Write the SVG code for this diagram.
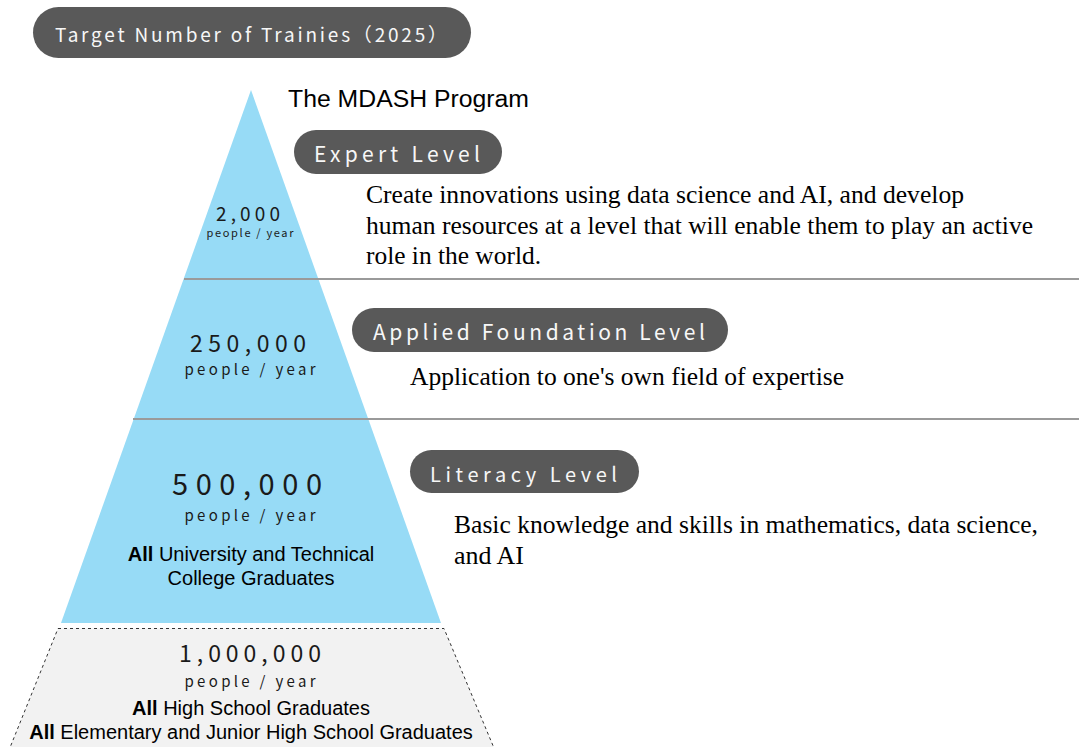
<svg xmlns="http://www.w3.org/2000/svg" width="1079" height="747" viewBox="0 0 1079 747">
  <style>
    .badge { fill: #595959; }
    .badge-text { font-family: "Noto Sans CJK JP", "Noto Sans", sans-serif; fill: #f7f7f7; }
    .num { font-family: "Noto Sans CJK JP", "Noto Sans", sans-serif; fill: #1a1a1a; text-anchor: middle; }
    .sans { font-family: "Liberation Sans", Arial, sans-serif; fill: #000; }
    .serif { font-family: "Liberation Serif", "Times New Roman", serif; fill: #000; font-size: 25px; }
    .sep { stroke: #9a9a9a; stroke-width: 2; fill: none; }
  </style>

  <rect width="1079" height="747" fill="#ffffff"/>

  <!-- title badge -->
  <g id="title">
    <rect class="badge" x="33" y="7" width="438" height="51" rx="25.5"/>
    <text class="badge-text" x="55" y="42" font-size="19" textLength="392" lengthAdjust="spacing">Target Number of Trainies（2025）</text>
  </g>

  <!-- lower tier: all school graduates (dashed outline) -->
  <g id="tier-school">
    <polygon points="58,628.5 444,628.5 499,760 5,760" fill="#f2f2f2" stroke="#333" stroke-width="1" stroke-dasharray="3,3"/>
    <text class="num" x="250" y="662" font-size="23" textLength="142" lengthAdjust="spacing">1,000,000</text>
    <text class="num" x="250" y="687" font-size="15" textLength="131" lengthAdjust="spacing">people / year</text>
    <text class="sans" x="251" y="715" font-size="20" text-anchor="middle"><tspan font-weight="bold">All</tspan> High School Graduates</text>
    <text class="sans" x="251" y="739" font-size="20" text-anchor="middle"><tspan font-weight="bold">All</tspan> Elementary and Junior High School Graduates</text>
  </g>

  <!-- pyramid body -->
  <g id="pyramid">
    <polygon points="251,90 441,623 61,623" fill="#97dbf6"/>
  </g>

  <!-- tier separators -->
  <g id="separators">
    <line class="sep" x1="184" y1="279" x2="1079" y2="279"/>
    <line class="sep" x1="133" y1="419" x2="1079" y2="419"/>
  </g>

  <!-- program heading -->
  <g id="program-title">
    <text class="sans" x="288" y="107" font-size="23" textLength="241" lengthAdjust="spacingAndGlyphs">The MDASH Program</text>
  </g>

  <!-- expert tier -->
  <g id="tier-expert">
    <text class="num" x="248" y="221" font-size="19" textLength="64" lengthAdjust="spacing">2,000</text>
    <text class="num" x="250" y="237" font-size="11" textLength="87" lengthAdjust="spacing">people / year</text>
    <rect class="badge" x="294" y="130" width="208" height="44" rx="22"/>
    <text class="badge-text" x="314" y="162" font-size="21" textLength="166" lengthAdjust="spacing">Expert Level</text>
    <text class="serif" x="366" y="203" textLength="598" lengthAdjust="spacingAndGlyphs">Create innovations using data science and AI, and develop</text>
    <text class="serif" x="366" y="234" textLength="667" lengthAdjust="spacingAndGlyphs">human resources at a level that will enable them to play an active</text>
    <text class="serif" x="366" y="264" textLength="175" lengthAdjust="spacingAndGlyphs">role in the world.</text>
  </g>

  <!-- applied foundation tier -->
  <g id="tier-applied">
    <text class="num" x="248" y="352" font-size="23" textLength="116" lengthAdjust="spacing">250,000</text>
    <text class="num" x="250" y="375" font-size="15" textLength="131" lengthAdjust="spacing">people / year</text>
    <rect class="badge" x="352" y="308" width="376" height="44" rx="22"/>
    <text class="badge-text" x="373" y="340" font-size="21" textLength="332" lengthAdjust="spacing">Applied Foundation Level</text>
    <text class="serif" x="410" y="385" textLength="434" lengthAdjust="spacingAndGlyphs">Application to one's own field of expertise</text>
  </g>

  <!-- literacy tier -->
  <g id="tier-literacy">
    <text class="num" x="247" y="495" font-size="29" textLength="150" lengthAdjust="spacing">500,000</text>
    <text class="num" x="250" y="521" font-size="15" textLength="131" lengthAdjust="spacing">people / year</text>
    <text class="sans" x="251" y="561" font-size="20" text-anchor="middle"><tspan font-weight="bold">All</tspan> University and Technical</text>
    <text class="sans" x="251" y="585" font-size="20" text-anchor="middle">College Graduates</text>
    <rect class="badge" x="410" y="450" width="229" height="43" rx="21.5"/>
    <text class="badge-text" x="430" y="482" font-size="20" textLength="187" lengthAdjust="spacing">Literacy Level</text>
    <text class="serif" x="454" y="533" textLength="584" lengthAdjust="spacingAndGlyphs">Basic knowledge and skills in mathematics, data science,</text>
    <text class="serif" x="454" y="564" textLength="70" lengthAdjust="spacingAndGlyphs">and AI</text>
  </g>
</svg>
